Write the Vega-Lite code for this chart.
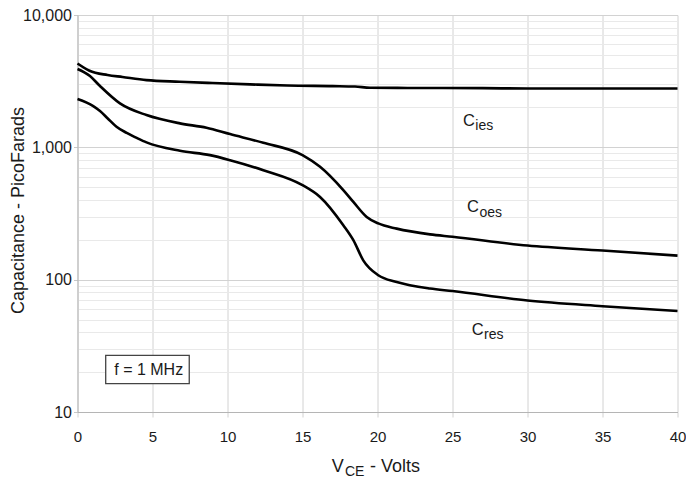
{
  "$schema": "https://vega.github.io/schema/vega-lite/v6.json",
  "width": 600,
  "height": 397,
  "autosize": {"type": "none"},
  "padding": {"left": 77.5, "top": 15, "right": 8.5, "bottom": 69},
  "background": "white",
  "config": {"view": {"stroke": null}, "font": "Liberation Sans", "text": {"font": "Liberation Sans", "color": "#1a1a1a"}},
  "data": {"values": [
    {"s": "Cies", "v": 0, "c": 4300}, {"s": "Cies", "v": 0.8, "c": 3790}, {"s": "Cies", "v": 2, "c": 3520},
    {"s": "Cies", "v": 3, "c": 3400}, {"s": "Cies", "v": 4.6, "c": 3220}, {"s": "Cies", "v": 6.8, "c": 3130},
    {"s": "Cies", "v": 9, "c": 3060}, {"s": "Cies", "v": 11.5, "c": 2990}, {"s": "Cies", "v": 14, "c": 2930},
    {"s": "Cies", "v": 17, "c": 2900}, {"s": "Cies", "v": 18.5, "c": 2880}, {"s": "Cies", "v": 19.5, "c": 2820},
    {"s": "Cies", "v": 22, "c": 2810}, {"s": "Cies", "v": 27, "c": 2800}, {"s": "Cies", "v": 30, "c": 2780},
    {"s": "Cies", "v": 40, "c": 2780},
    {"s": "Coes", "v": 0, "c": 3905}, {"s": "Coes", "v": 0.83, "c": 3456}, {"s": "Coes", "v": 1.5, "c": 2904},
    {"s": "Coes", "v": 2.83, "c": 2148}, {"s": "Coes", "v": 4.6, "c": 1753}, {"s": "Coes", "v": 6.83, "c": 1517},
    {"s": "Coes", "v": 8.6, "c": 1406}, {"s": "Coes", "v": 10.17, "c": 1259}, {"s": "Coes", "v": 12.39, "c": 1082},
    {"s": "Coes", "v": 15, "c": 873}, {"s": "Coes", "v": 16.17, "c": 712}, {"s": "Coes", "v": 17.72, "c": 475},
    {"s": "Coes", "v": 18.39, "c": 387}, {"s": "Coes", "v": 19.28, "c": 298}, {"s": "Coes", "v": 20.05, "c": 266},
    {"s": "Coes", "v": 21.28, "c": 243}, {"s": "Coes", "v": 23.5, "c": 220}, {"s": "Coes", "v": 25, "c": 211},
    {"s": "Coes", "v": 30, "c": 181}, {"s": "Coes", "v": 35, "c": 166}, {"s": "Coes", "v": 40, "c": 152},
    {"s": "Cres", "v": 0, "c": 2316}, {"s": "Cres", "v": 1.05, "c": 2049}, {"s": "Cres", "v": 1.5, "c": 1880},
    {"s": "Cres", "v": 2, "c": 1660}, {"s": "Cres", "v": 2.6, "c": 1430}, {"s": "Cres", "v": 3.28, "c": 1285},
    {"s": "Cres", "v": 4, "c": 1170}, {"s": "Cres", "v": 4.6, "c": 1090},
    {"s": "Cres", "v": 6.83, "c": 942}, {"s": "Cres", "v": 8.83, "c": 873}, {"s": "Cres", "v": 10.17, "c": 800},
    {"s": "Cres", "v": 12.39, "c": 672}, {"s": "Cres", "v": 15, "c": 518}, {"s": "Cres", "v": 16.17, "c": 422},
    {"s": "Cres", "v": 17.72, "c": 258}, {"s": "Cres", "v": 18.39, "c": 199}, {"s": "Cres", "v": 19.05, "c": 140},
    {"s": "Cres", "v": 20.05, "c": 108}, {"s": "Cres", "v": 21.28, "c": 96}, {"s": "Cres", "v": 23.5, "c": 85.7},
    {"s": "Cres", "v": 25, "c": 82}, {"s": "Cres", "v": 30, "c": 69.5}, {"s": "Cres", "v": 35, "c": 63},
    {"s": "Cres", "v": 40, "c": 58}
  ]},
  "layer": [
    {
      "mark": {"type": "line", "interpolate": "monotone", "color": "black", "strokeWidth": 2.6},
      "encoding": {
        "x": {"field": "v", "type": "quantitative",
          "scale": {"domain": [0, 40], "nice": false, "zero": false},
          "axis": {"values": [0, 5, 10, 15, 20, 25, 30, 35, 40], "grid": true, "gridColor": "#d2d2d2",
            "domainColor": "#b5b5b5", "tickColor": "#d2d2d2", "tickSize": 5, "labelFontSize": 15,
            "labelPadding": 12, "labelColor": "#1a1a1a", "labelFont": "Liberation Sans", "labelFlush": false,
            "labelOverlap": false, "title": null}},
        "y": {"field": "c", "type": "quantitative",
          "scale": {"type": "log", "domain": [10, 10000], "nice": false},
          "axis": {"values": [10, 20, 30, 40, 50, 60, 70, 80, 90, 100, 200, 300, 400, 500, 600, 700, 800, 900, 1000, 2000, 3000, 4000, 5000, 6000, 7000, 8000, 9000, 10000],
            "labelExpr": "indexof([10, 100, 1000, 10000], datum.value) >= 0 ? format(datum.value, ',') : ''",
            "grid": true, "labelFlush": false, "labelOverlap": false,
            "gridColor": {"condition": {"test": "indexof([10, 100, 1000, 10000], datum.value) >= 0", "value": "#d2d2d2"}, "value": "#e9e9e9"},
            "tickColor": {"condition": {"test": "indexof([10, 100, 1000, 10000], datum.value) >= 0", "value": "#c8c8c8"}, "value": "transparent"},
            "domainColor": "#b5b5b5", "tickSize": 4, "labelFontSize": 16, "labelPadding": 2,
            "labelColor": "#1a1a1a", "labelFont": "Liberation Sans",
            "title": "Capacitance - PicoFarads", "titleFontSize": 18, "titleFontWeight": "normal",
            "titleFont": "Liberation Sans", "titleColor": "#1a1a1a", "titleX": -50, "titleY": 195}},
        "detail": {"field": "s"}
      }
    },
    {
      "data": {"values": [{}]},
      "mark": {"type": "rect", "fill": "white", "stroke": "#444444", "strokeWidth": 1.3},
      "encoding": {"x": {"datum": 1.88, "type": "quantitative"}, "x2": {"datum": 7.45},
        "y": {"datum": 26.8, "type": "quantitative"}, "y2": {"datum": 16.4}}
    },
    {
      "data": {"values": [{}]},
      "mark": {"type": "text", "align": "left", "baseline": "alphabetic", "fontSize": 16, "text": "f  = 1 MHz"},
      "encoding": {"x": {"datum": 2.45, "type": "quantitative"}, "y": {"datum": 18.9, "type": "quantitative"}}
    },
    {
      "data": {"values": [{}]},
      "mark": {"type": "text", "align": "left", "baseline": "alphabetic", "fontSize": 16.5, "text": "C"},
      "encoding": {"x": {"datum": 25.7, "type": "quantitative"}, "y": {"datum": 1447, "type": "quantitative"}}
    },
    {
      "data": {"values": [{}]},
      "mark": {"type": "text", "align": "left", "baseline": "alphabetic", "fontSize": 14, "text": "ies"},
      "encoding": {"x": {"datum": 26.52, "type": "quantitative"}, "y": {"datum": 1349, "type": "quantitative"}}
    },
    {
      "data": {"values": [{}]},
      "mark": {"type": "text", "align": "left", "baseline": "alphabetic", "fontSize": 16.5, "text": "C"},
      "encoding": {"x": {"datum": 25.97, "type": "quantitative"}, "y": {"datum": 325, "type": "quantitative"}}
    },
    {
      "data": {"values": [{}]},
      "mark": {"type": "text", "align": "left", "baseline": "alphabetic", "fontSize": 14, "text": "oes"},
      "encoding": {"x": {"datum": 26.8, "type": "quantitative"}, "y": {"datum": 298, "type": "quantitative"}}
    },
    {
      "data": {"values": [{}]},
      "mark": {"type": "text", "align": "left", "baseline": "alphabetic", "fontSize": 16.5, "text": "C"},
      "encoding": {"x": {"datum": 26.28, "type": "quantitative"}, "y": {"datum": 38.4, "type": "quantitative"}}
    },
    {
      "data": {"values": [{}]},
      "mark": {"type": "text", "align": "left", "baseline": "alphabetic", "fontSize": 14, "text": "res"},
      "encoding": {"x": {"datum": 27.1, "type": "quantitative"}, "y": {"datum": 35.8, "type": "quantitative"}}
    },
    {
      "data": {"values": [{}]},
      "mark": {"type": "text", "align": "left", "baseline": "alphabetic", "fontSize": 18, "text": "V"},
      "encoding": {"x": {"datum": 16.95, "type": "quantitative"}, "y": {"datum": 3.51, "type": "quantitative"}}
    },
    {
      "data": {"values": [{}]},
      "mark": {"type": "text", "align": "left", "baseline": "alphabetic", "fontSize": 14, "text": "CE"},
      "encoding": {"x": {"datum": 17.83, "type": "quantitative"}, "y": {"datum": 3.258, "type": "quantitative"}}
    },
    {
      "data": {"values": [{}]},
      "mark": {"type": "text", "align": "left", "baseline": "alphabetic", "fontSize": 18, "text": "- Volts"},
      "encoding": {"x": {"datum": 19.5, "type": "quantitative"}, "y": {"datum": 3.51, "type": "quantitative"}}
    }
  ]
}
